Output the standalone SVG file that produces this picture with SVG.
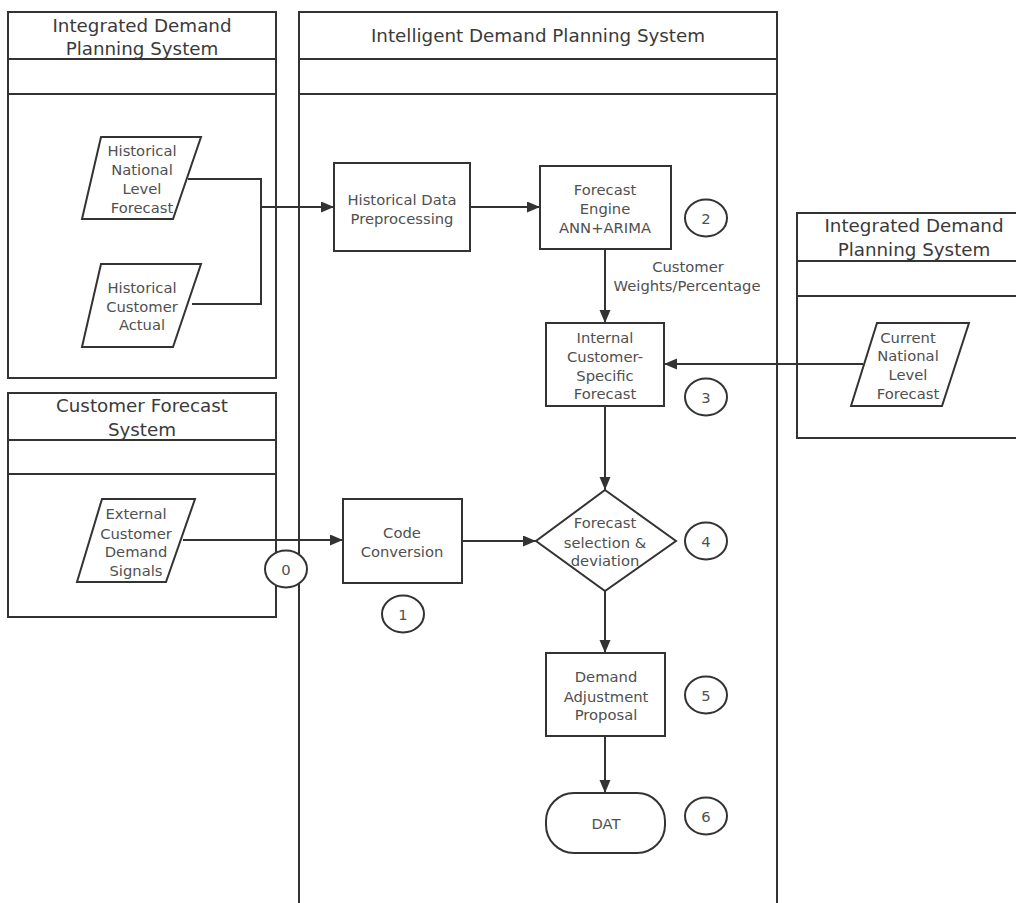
<svg xmlns="http://www.w3.org/2000/svg" width="1016" height="903" viewBox="0 0 1016 903">
  <style>
    .lane { fill: #fff; stroke: #333; stroke-width: 2; }
    .shape { fill: #fff; stroke: #333; stroke-width: 2; }
    .edge { fill: none; stroke: #333; stroke-width: 2; }
    .title { font-family: "DejaVu Sans", "Open Sans", sans-serif; font-size: 18.3px; fill: #3a3a3a; text-anchor: middle; }
    .label { font-family: "DejaVu Sans", "Open Sans", sans-serif; font-size: 14.75px; fill: #505050; text-anchor: middle; }
  </style>
  <defs>
    <marker id="arrow" markerUnits="userSpaceOnUse" markerWidth="14" markerHeight="12" refX="13" refY="5.5" orient="auto">
      <path d="M0,0 L13,5.5 L0,11 z" fill="#333"/>
    </marker>
  </defs>
  <rect width="1016" height="903" fill="#fff"/>

  <!-- swimlane: Integrated Demand Planning System (left) -->
  <g id="lane-idps-left">
    <rect class="lane" x="8" y="12" width="268" height="366"/>
    <line class="lane" x1="8" y1="59" x2="276" y2="59"/>
    <line class="lane" x1="8" y1="94" x2="276" y2="94"/>
    <text class="title" x="142" y="32">Integrated Demand</text>
    <text class="title" x="142" y="55">Planning System</text>
  </g>

  <!-- swimlane: Intelligent Demand Planning System (centre) -->
  <g id="lane-intelligent">
    <rect class="lane" x="299" y="12" width="478" height="892"/>
    <line class="lane" x1="299" y1="59" x2="777" y2="59"/>
    <line class="lane" x1="299" y1="94" x2="777" y2="94"/>
    <text class="title" x="538" y="42">Intelligent Demand Planning System</text>
  </g>

  <!-- swimlane: Integrated Demand Planning System (right) -->
  <g id="lane-idps-right">
    <rect class="lane" x="797" y="213" width="230" height="225"/>
    <line class="lane" x1="797" y1="261" x2="1016" y2="261"/>
    <line class="lane" x1="797" y1="296" x2="1016" y2="296"/>
    <text class="title" x="914" y="232">Integrated Demand</text>
    <text class="title" x="914" y="256">Planning System</text>
  </g>

  <!-- swimlane: Customer Forecast System -->
  <g id="lane-customer">
    <rect class="lane" x="8" y="393" width="268" height="224"/>
    <line class="lane" x1="8" y1="440" x2="276" y2="440"/>
    <line class="lane" x1="8" y1="474" x2="276" y2="474"/>
    <text class="title" x="142" y="412">Customer Forecast</text>
    <text class="title" x="142" y="436">System</text>
  </g>

  <!-- connectors -->
  <g id="connectors">
    <polyline class="edge" points="188,179 261,179 261,304 192,304"/>
    <line class="edge" x1="261" y1="207" x2="334" y2="207" marker-end="url(#arrow)"/>
    <line class="edge" x1="470" y1="207" x2="540" y2="207" marker-end="url(#arrow)"/>
    <line class="edge" x1="605" y1="249" x2="605" y2="323" marker-end="url(#arrow)"/>
    <line class="edge" x1="863" y1="364" x2="664" y2="364" marker-end="url(#arrow)"/>
    <line class="edge" x1="605" y1="406" x2="605" y2="490" marker-end="url(#arrow)"/>
    <line class="edge" x1="183" y1="540" x2="343" y2="540" marker-end="url(#arrow)"/>
    <line class="edge" x1="462" y1="541" x2="536" y2="541" marker-end="url(#arrow)"/>
    <line class="edge" x1="605" y1="591" x2="605" y2="653" marker-end="url(#arrow)"/>
    <line class="edge" x1="605" y1="736" x2="605" y2="793" marker-end="url(#arrow)"/>
    <text class="label" x="688" y="272">Customer</text>
    <text class="label" x="687" y="291">Weights/Percentage</text>
  </g>

  <g id="hist-national">
    <polygon class="shape" points="101,137 201,137 173,219 82,219"/>
    <text class="label" x="142" y="156">Historical</text>
    <text class="label" x="142" y="175">National</text>
    <text class="label" x="142" y="194">Level</text>
    <text class="label" x="142" y="213">Forecast</text>
  </g>

  <g id="hist-customer">
    <polygon class="shape" points="101,264 201,264 173,347 82,347"/>
    <text class="label" x="142" y="293">Historical</text>
    <text class="label" x="142" y="312">Customer</text>
    <text class="label" x="142" y="330">Actual</text>
  </g>

  <g id="preprocessing">
    <rect class="shape" x="334" y="163" width="136" height="88"/>
    <text class="label" x="402" y="205">Historical Data</text>
    <text class="label" x="402" y="224">Preprocessing</text>
  </g>

  <g id="forecast-engine">
    <rect class="shape" x="540" y="166" width="131" height="83"/>
    <text class="label" x="605" y="195">Forecast</text>
    <text class="label" x="605" y="214">Engine</text>
    <text class="label" x="605" y="233">ANN+ARIMA</text>
  </g>

  <g id="step-2">
    <ellipse class="shape" cx="706" cy="218" rx="21" ry="18.5"/>
    <text class="label" x="706" y="224">2</text>
  </g>

  <g id="internal-forecast">
    <rect class="shape" x="546" y="323" width="118" height="83"/>
    <text class="label" x="605" y="343">Internal</text>
    <text class="label" x="605" y="362">Customer-</text>
    <text class="label" x="605" y="381">Specific</text>
    <text class="label" x="605" y="399">Forecast</text>
  </g>

  <g id="step-3">
    <ellipse class="shape" cx="706" cy="397" rx="21" ry="18.5"/>
    <text class="label" x="706" y="403">3</text>
  </g>

  <g id="current-national">
    <polygon class="shape" points="877,323 969,323 942,406 851,406"/>
    <text class="label" x="908" y="343">Current</text>
    <text class="label" x="908" y="361">National</text>
    <text class="label" x="908" y="380">Level</text>
    <text class="label" x="908" y="399">Forecast</text>
  </g>

  <g id="external-signals">
    <polygon class="shape" points="102,499 195,499 166,582 77,582"/>
    <text class="label" x="136" y="519">External</text>
    <text class="label" x="136" y="539">Customer</text>
    <text class="label" x="136" y="557">Demand</text>
    <text class="label" x="136" y="576">Signals</text>
  </g>

  <g id="step-0">
    <ellipse class="shape" cx="286" cy="569" rx="21" ry="18.5"/>
    <text class="label" x="286" y="575">0</text>
  </g>

  <g id="code-conversion">
    <rect class="shape" x="343" y="499" width="119" height="84"/>
    <text class="label" x="402" y="538">Code</text>
    <text class="label" x="402" y="557">Conversion</text>
  </g>

  <g id="step-1">
    <ellipse class="shape" cx="403" cy="614" rx="21" ry="18.5"/>
    <text class="label" x="403" y="620">1</text>
  </g>

  <g id="selection">
    <polygon class="shape" points="605,490 676,541 605,591 536,541"/>
    <text class="label" x="605" y="528">Forecast</text>
    <text class="label" x="605" y="548">selection &amp;</text>
    <text class="label" x="605" y="566">deviation</text>
  </g>

  <g id="step-4">
    <ellipse class="shape" cx="706" cy="541" rx="21" ry="18.5"/>
    <text class="label" x="706" y="547">4</text>
  </g>

  <g id="adjustment">
    <rect class="shape" x="546" y="653" width="119" height="83"/>
    <text class="label" x="606" y="682">Demand</text>
    <text class="label" x="606" y="702">Adjustment</text>
    <text class="label" x="606" y="720">Proposal</text>
  </g>

  <g id="step-5">
    <ellipse class="shape" cx="706" cy="695" rx="21" ry="18.5"/>
    <text class="label" x="706" y="701">5</text>
  </g>

  <g id="dat">
    <rect class="shape" x="546" y="793" width="119" height="60" rx="28" ry="28"/>
    <text class="label" x="606" y="829">DAT</text>
  </g>

  <g id="step-6">
    <ellipse class="shape" cx="706" cy="816" rx="21" ry="18.5"/>
    <text class="label" x="706" y="822">6</text>
  </g>
</svg>
